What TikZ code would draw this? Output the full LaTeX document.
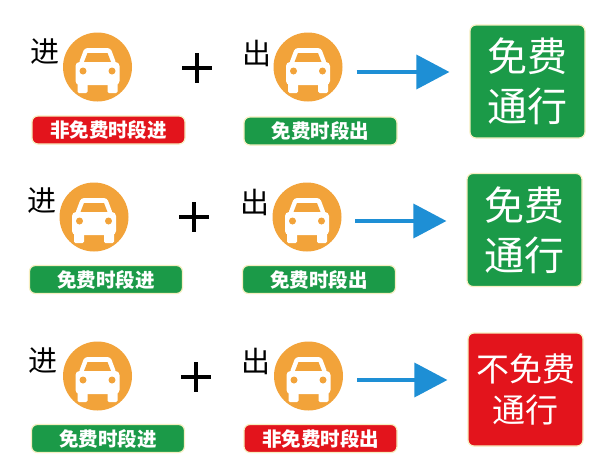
\documentclass[tikz,border=0pt]{standalone}
\usepackage{fontspec}
\newfontfamily\cjk{Noto Sans CJK SC}
\usetikzlibrary{arrows.meta,calc}
\definecolor{carorange}{HTML}{F2A33A}
\definecolor{pgreen}{HTML}{1B9A48}
\definecolor{pred}{HTML}{E3141C}
\definecolor{pblue}{HTML}{1E8FD5}
\definecolor{glow}{HTML}{F6EFC0}
\tikzset{
  carcircle/.style={circle, fill=carorange, minimum size=69pt, inner sep=0pt},
  tag/.style={rounded corners=6pt, minimum width=153pt, minimum height=28pt, inner sep=0pt,
    text=white, draw=glow, line width=1.2pt, font=\cjk\bfseries\fontsize{19.5}{20}\selectfont},
  greentag/.style={tag, fill=pgreen},
  redtag/.style={tag, fill=pred},
  resbox/.style={rounded corners=6pt, minimum width=115pt, minimum height=113pt, inner sep=0pt,
    text=white, align=center, draw=glow, line width=1.2pt},
  bigfont/.style={font=\cjk\fontsize{40}{50}\selectfont},
  midfont/.style={font=\cjk\fontsize{33}{41}\selectfont},
  letter/.style={font=\cjk\fontsize{29}{29}\selectfont, inner sep=0pt},
  plusline/.style={line width=4pt},
  arr/.style={draw=pblue, line width=3.5pt, -{Triangle[length=33pt,width=34pt]}},
  car/.pic={
    \fill[white, rounded corners=3pt] (-13,-19) -- (13,-19) -- (19,-3) -- (-19,-3) -- cycle;
    \fill[carorange] (-10,-14) -- (10,-14) -- (13.5,-5) -- (-13.5,-5) -- cycle;
    \fill[white, rounded corners=4pt] (-22,-5) rectangle (22,18);
    \fill[white, rounded corners=1.5pt] (-20,14) rectangle (-10,26);
    \fill[white, rounded corners=1.5pt] (10,14) rectangle (20,26);
    \fill[carorange] (-14.5,4) circle (3.5);
    \fill[carorange] (14.5,4) circle (3.5);
  }
}
\begin{document}
\begin{tikzpicture}[x=1pt,y=-1pt]
\useasboundingbox[fill=white] (0,0) rectangle (614,474);

% ---------- row 1 ----------
\node[letter] (in1) at (45,52) {进};
\node[carcircle] (c11) at (97.5,67) {};
\pic at (c11) {car};
\node[redtag] (t11) at (108.5,130) {非免费时段进};
\coordinate (p1) at (197,68);
\draw[plusline] ($(p1)+(-15,0)$) -- ($(p1)+(15,0)$) ($(p1)+(0,-15)$) -- ($(p1)+(0,15)$);
\node[letter] (out1) at (257,53) {出};
\node[carcircle] (c12) at (308,67) {};
\pic at (c12) {car};
\node[greentag] (t12) at (320.5,131) {免费时段出};
\node[resbox, fill=pgreen, bigfont] (r1) at (527.5,81.5) {免费\\通行};
\draw[arr] ($(c12.east)+(14,5)$) -- ($(r1.west)+(-20,-9.5)$);

% ---------- row 2 ----------
\node[letter] (in2) at (42,201) {进};
\node[carcircle] (c21) at (94,217) {};
\pic at (c21) {car};
\node[greentag] (t21) at (106,279.5) {免费时段进};
\coordinate (p2) at (194,217);
\draw[plusline] ($(p2)+(-15,0)$) -- ($(p2)+(15,0)$) ($(p2)+(0,-15)$) -- ($(p2)+(0,15)$);
\node[letter] (out2) at (255,202) {出};
\node[carcircle] (c22) at (307,217) {};
\pic at (c22) {car};
\node[greentag] (t22) at (319,279.5) {免费时段出};
\node[resbox, fill=pgreen, bigfont] (r2) at (524.5,230) {免费\\通行};
\draw[arr] ($(c22.east)+(13.5,4)$) -- ($(r2.west)+(-20,-9)$);

% ---------- row 3 ----------
\node[letter] (in3) at (43,361) {进};
\node[carcircle] (c31) at (97.5,376) {};
\pic at (c31) {car};
\node[greentag] (t31) at (108,438.5) {免费时段进};
\coordinate (p3) at (196,377);
\draw[plusline] ($(p3)+(-15,0)$) -- ($(p3)+(15,0)$) ($(p3)+(0,-15)$) -- ($(p3)+(0,15)$);
\node[letter] (out3) at (256,361) {出};
\node[carcircle] (c32) at (308.5,376) {};
\pic at (c32) {car};
\node[redtag] (t32) at (320.5,438.5) {非免费时段出};
\node[resbox, fill=pred, midfont] (r3) at (525.5,389.5) {不免费\\通行};
\draw[arr] ($(c32.east)+(14,4)$) -- ($(r3.west)+(-20,-9.5)$);
\end{tikzpicture}
\end{document}
